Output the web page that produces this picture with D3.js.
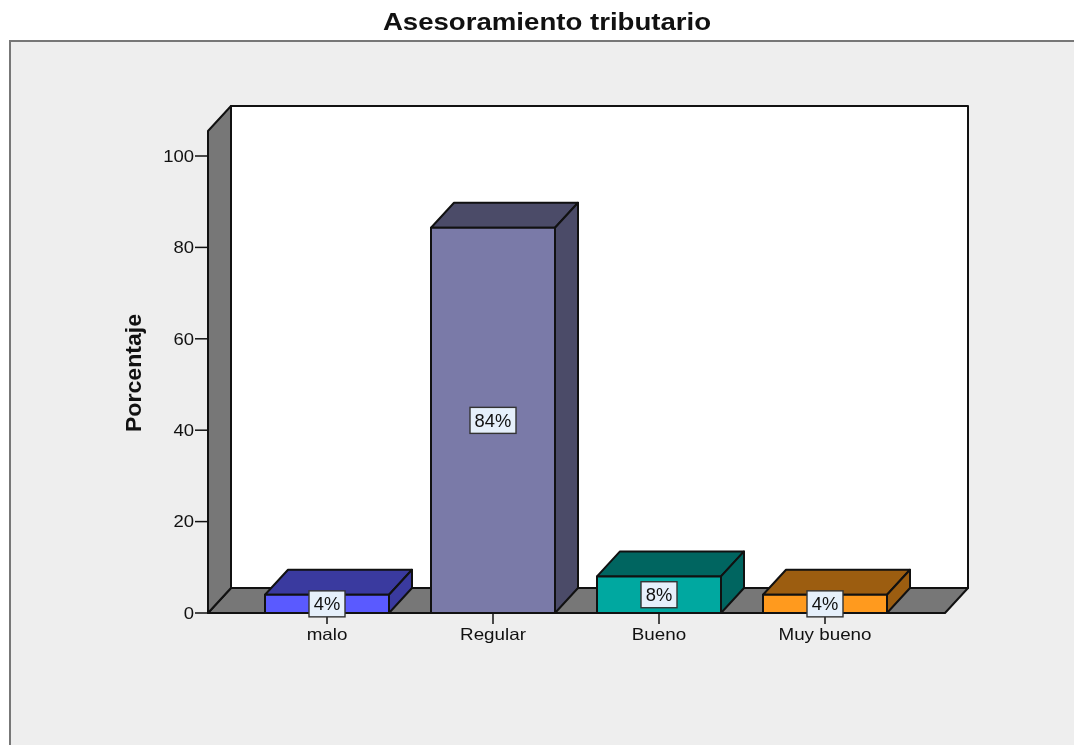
<!DOCTYPE html>
<html><head><meta charset="utf-8">
<script src="https://cdn.jsdelivr.net/npm/d3@7/dist/d3.min.js"></script>
<style>
html,body{margin:0;padding:0;background:#fff;overflow:hidden}
svg{display:block;filter:blur(0.45px)}
text{font-family:"Liberation Sans",Arial,sans-serif;fill:#111}
</style></head><body>
<script>
const title = "Asesoramiento tributario";
const yTitle = "Porcentaje";
const categories = ["malo","Regular","Bueno","Muy bueno"];
const values = [4, 84.3, 8, 4];
const pctLabels = ["4%","84%","8%","4%"];
const yTicks = [0,20,40,60,80,100];
const frontColors = ["#5a5aff","#7a7aa8","#00a8a0","#ff9a1e"];
const shadeColors = ["#3a3a9f","#4b4b68","#006560","#9c5d10"];

const W=1074,H=745;
const svg=d3.select("body").append("svg").attr("width",W).attr("height",H);
const y=d3.scaleLinear().domain([0,100]).range([613,156]);
const x=d3.scaleBand().domain(categories).range([244,908]).paddingInner(42/166).paddingOuter(21/166);
const dx=23,dy=-25;
const x0=208,x1=945;
const ink="#111";
const stretch=(sel,k)=>sel.each(function(){
  const n=this.getComputedTextLength();
  d3.select(this).attr("textLength",n*k).attr("lengthAdjust","spacingAndGlyphs");
});

svg.append("rect").attr("x",10).attr("y",41).attr("width",W).attr("height",H)
  .attr("fill","#eeeeee").attr("stroke","#777").attr("stroke-width",2);
svg.append("text").attr("x",547).attr("y",30).attr("text-anchor","middle")
  .attr("font-size",24).attr("font-weight","bold").text(title).call(stretch,1.15);

const poly=(pts,fill)=>svg.append("polygon").attr("points",pts.map(p=>p.join(",")).join(" "))
  .attr("fill",fill).attr("stroke",ink).attr("stroke-width",2).attr("stroke-linejoin","round");

// back wall, floor, side wall
const y0=y(0), wallTop=131;
poly([[x0+dx,wallTop+dy],[x1+dx,wallTop+dy],[x1+dx,y0+dy],[x0+dx,y0+dy]],"#ffffff");
poly([[x0,y0],[x0+dx,y0+dy],[x1+dx,y0+dy],[x1,y0]],"#777777");
poly([[x0,wallTop],[x0+dx,wallTop+dy],[x0+dx,y0+dy],[x0,y0]],"#777777");

// y axis
const yAxis=d3.axisLeft(y).tickValues(yTicks).tickSize(0).tickPadding(1).tickFormat(d3.format("d"));
const ga=svg.append("g").attr("transform",`translate(${x0-13},0)`).call(yAxis);
ga.select(".domain").remove();
ga.selectAll("text").attr("font-size",16.5).attr("fill","#111").call(stretch,1.12);
svg.selectAll("line.ytick").data(yTicks).enter().append("line").attr("class","ytick")
  .attr("x1",x0-13).attr("x2",x0).attr("y1",d=>y(d)).attr("y2",d=>y(d)).attr("stroke",ink).attr("stroke-width",1.5);
svg.append("text").attr("transform","translate(141,373) rotate(-90)").attr("text-anchor","middle")
  .attr("font-size",22).attr("font-weight","bold").text(yTitle).call(stretch,1.05);

// x axis
const xAxis=d3.axisBottom(x).tickSize(0).tickPadding(0);
const gx=svg.append("g").attr("transform",`translate(0,${y0+15})`).call(xAxis);
gx.select(".domain").remove();
gx.selectAll("text").attr("font-size",16.5).attr("fill","#111").call(stretch,1.14);
svg.selectAll("line.xtick").data(categories).enter().append("line").attr("class","xtick")
  .attr("x1",d=>x(d)+x.bandwidth()/2).attr("x2",d=>x(d)+x.bandwidth()/2).attr("y1",y0).attr("y2",y0+11)
  .attr("stroke",ink).attr("stroke-width",1.5);

// bars
categories.forEach((c,i)=>{
  const l=x(c),r=l+x.bandwidth(),t=y(values[i]);
  poly([[l,t],[l+dx,t+dy],[r+dx,t+dy],[r,t]],shadeColors[i]);
  poly([[r,t],[r+dx,t+dy],[r+dx,y0+dy],[r,y0]],shadeColors[i]);
  poly([[l,t],[r,t],[r,y0],[l,y0]],frontColors[i]);
});

// value labels
categories.forEach((c,i)=>{
  const cx=x(c)+x.bandwidth()/2, cy=Math.min((y(values[i])+y0)/2, y0-8);
  const w=pctLabels[i].length>2?46:36, h=26;
  svg.append("rect").attr("x",cx-w/2).attr("y",cy-h/2).attr("width",w).attr("height",h)
    .attr("fill","#e6f0fb").attr("stroke","#333").attr("stroke-width",1.4);
  svg.append("text").attr("x",cx).attr("y",cy+6.5).attr("text-anchor","middle").attr("font-size",18).text(pctLabels[i]).call(stretch,1.02);
});
</script>
</body></html>
